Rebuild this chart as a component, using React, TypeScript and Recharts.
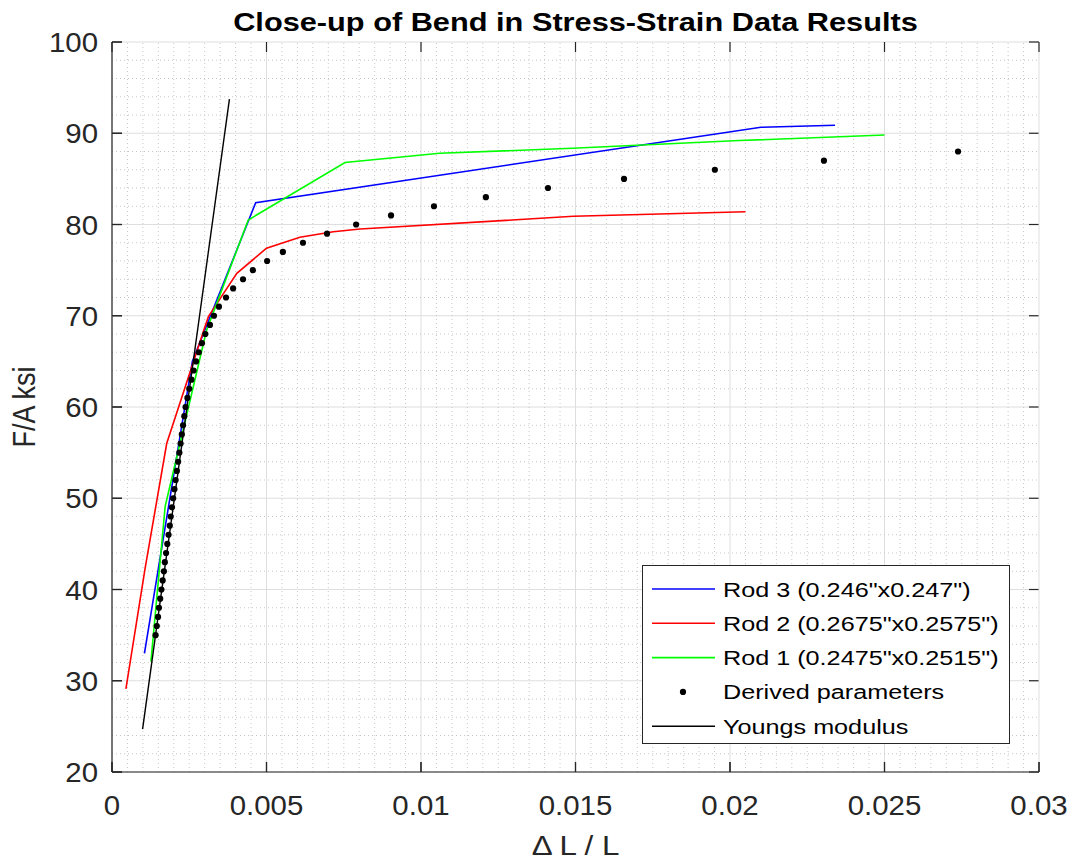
import React from 'react';
import { ComposedChart, Line, Scatter, XAxis, YAxis, CartesianGrid, ReferenceLine, Label } from 'recharts';

const FONT = '"Liberation Sans", Arial, Helvetica, sans-serif';
const INK = '#262626';

const chartTitle = 'Close-up of Bend in Stress-Strain Data Results';
const xLabel = '\u0394 L / L';
const yLabel = 'F/A ksi';

const xTicks = [0, 0.005, 0.01, 0.015, 0.02, 0.025, 0.03];
const xTickLabels = ['0', '0.005', '0.01', '0.015', '0.02', '0.025', '0.03'];
const yTicks = [20, 30, 40, 50, 60, 70, 80, 90, 100];
const yTickLabels = ['20', '30', '40', '50', '60', '70', '80', '90', '100'];
const xMinorStep = 0.0005;
const yMinorStep = 2;

// Rod 3 (blue)
const rod3Strain = [0.00105, 0.0026, 0.00465, 0.021, 0.0234];
const rod3Stress = [33.0, 65.0, 82.4, 90.65, 90.87];

// Rod 2 (red)
const rod2Strain = [0.00045, 0.00107, 0.00177, 0.00297, 0.00312, 0.0036, 0.00404, 0.005, 0.00608, 0.00716, 0.00803, 0.01493, 0.0205];
const rod2Stress = [29.1, 42.3, 56.0, 68.4, 69.9, 72.4, 74.65, 77.4, 78.6, 79.2, 79.5, 80.9, 81.4];

// Rod 1 (green)
const rod1Strain = [0.00126, 0.00172, 0.00306, 0.00441, 0.00754, 0.0106, 0.0149, 0.0203, 0.025];
const rod1Stress = [32.1, 49.1, 68.4, 80.5, 86.8, 87.8, 88.35, 89.2, 89.8];

// Derived parameters (dots)
const derivedStress = [35, 36, 37, 38, 39, 40, 41, 42, 43, 44, 45, 46, 47, 48, 49, 50, 51, 52, 53, 54, 55, 56, 57, 58, 59, 60, 61, 62, 63, 64, 65, 66, 67, 68, 69, 70, 71, 72, 73, 74, 75, 76, 77, 78, 79, 80, 81, 82, 83, 84, 85, 86, 87, 88];
const derivedStrain = [0.00141, 0.00145, 0.00149, 0.00152, 0.00156, 0.0016, 0.00164, 0.00168, 0.00171, 0.00175, 0.00179, 0.00183, 0.00187, 0.0019, 0.00194, 0.00198, 0.00202, 0.00206, 0.0021, 0.00214, 0.00218, 0.00222, 0.00226, 0.0023, 0.00234, 0.00238, 0.00244, 0.0025, 0.00257, 0.00264, 0.00272, 0.00281, 0.00291, 0.00302, 0.00317, 0.0033, 0.00346, 0.00369, 0.00392, 0.00424, 0.00456, 0.00502, 0.00553, 0.00618, 0.00696, 0.0079, 0.00903, 0.01042, 0.0121, 0.01411, 0.01657, 0.01951, 0.02304, 0.02738];

// Youngs modulus (black)
const youngsStrain = [0.00099, 0.0038];
const youngsStress = [24.7, 93.75];

const legendNames = ['Rod 3 (0.246"x0.247")', 'Rod 2 (0.2675"x0.2575")', 'Rod 1 (0.2475"x0.2515")', 'Derived parameters', 'Youngs modulus'];
const legendColors = ['#0000ff', '#ff0000', '#00ff00', '#000000', '#000000'];
const legendKinds = ['line', 'line', 'line', 'dot', 'line'];

const zip = (xs: number[], ys: number[]) => xs.map((x, i) => ({ x, y: ys[i] }));
const rod3 = zip(rod3Strain, rod3Stress);
const rod2 = zip(rod2Strain, rod2Stress);
const rod1 = zip(rod1Strain, rod1Stress);
const derived = zip(derivedStrain, derivedStress);
const youngs = zip(youngsStrain, youngsStress);

const xMin = xTicks[0];
const xMax = xTicks[xTicks.length - 1];
const yMin = yTicks[0];
const yMax = yTicks[yTicks.length - 1];
const minorX: number[] = [];
for (let i = 1; Math.round(i * xMinorStep * 1e6) < Math.round(xMax * 1e6); i++) {
  if (i % 10 !== 0) minorX.push(+(i * xMinorStep).toFixed(5));
}
const minorY: number[] = [];
for (let v = yMin + yMinorStep; v < yMax; v += yMinorStep) {
  if (v % 10 !== 0) minorY.push(v);
}

const TICK_LEN = 10;
const LINE_W = 1.6;
const GRID = '#dedede';

// Major grid line + inward tick stubs on both box edges
const VGridLine = (p: any) => {
  const top = Math.min(p.y1, p.y2);
  const bot = Math.max(p.y1, p.y2);
  return (
    <g key={p.key}>
      <line x1={p.x1} x2={p.x2} y1={top} y2={bot} stroke={GRID} strokeWidth={1} />
      <line x1={p.x1} x2={p.x1} y1={bot} y2={bot - TICK_LEN} stroke={INK} strokeWidth={1.2} />
      <line x1={p.x1} x2={p.x1} y1={top} y2={top + TICK_LEN} stroke={INK} strokeWidth={1.2} />
    </g>
  );
};
const HGridLine = (p: any) => {
  const l = Math.min(p.x1, p.x2);
  const r = Math.max(p.x1, p.x2);
  return (
    <g key={p.key}>
      <line x1={l} x2={r} y1={p.y1} y2={p.y2} stroke={GRID} strokeWidth={1} />
      <line x1={l} x2={l + TICK_LEN} y1={p.y1} y2={p.y1} stroke={INK} strokeWidth={1.2} />
      <line x1={r} x2={r - TICK_LEN} y1={p.y1} y2={p.y1} stroke={INK} strokeWidth={1.2} />
    </g>
  );
};

const BottomTick = (p: any) => {
  const i = xTicks.indexOf(p.payload.value);
  return (
    <g>
      <line x1={p.x} x2={p.x} y1={p.y} y2={p.y - TICK_LEN} stroke={INK} strokeWidth={1.2} />
      <text transform={`translate(${p.x} ${p.y + 43}) scale(1.09 1)`} textAnchor="middle" fontSize={27} fill={INK} fontFamily={FONT}>
        {i >= 0 ? xTickLabels[i] : p.payload.value}
      </text>
    </g>
  );
};
const LeftTick = (p: any) => {
  const i = yTicks.indexOf(p.payload.value);
  return (
    <g>
      <line x1={p.x} x2={p.x + TICK_LEN} y1={p.y} y2={p.y} stroke={INK} strokeWidth={1.2} />
      <text transform={`translate(${p.x - 14} ${p.y + 10}) scale(1.09 1)`} textAnchor="end" fontSize={27} fill={INK} fontFamily={FONT}>
        {i >= 0 ? yTickLabels[i] : p.payload.value}
      </text>
    </g>
  );
};

const DotShape = (p: any) => <circle cx={p.cx} cy={p.cy} r={3.1} fill="#000" />;

const XLabelContent = (p: any) => {
  const vb = p.viewBox;
  return (
    <text transform={`translate(${vb.x + vb.width / 2} ${vb.y + 83}) scale(1.16 1)`} textAnchor="middle" fontSize={27} fill={INK} fontFamily={FONT}>
      {xLabel}
    </text>
  );
};
const YLabelContent = (p: any) => {
  const vb = p.viewBox;
  return (
    <text transform={`translate(${vb.x + 24} ${vb.y + vb.height / 2}) rotate(-90) scale(1 1.15)`} textAnchor="middle" dominantBaseline="central" fontSize={27} fill={INK} fontFamily={FONT}>
      {yLabel}
    </text>
  );
};

export default function App() {
  return (
    <div style={{ position: 'fixed', left: 0, top: 0, width: 1071, height: 861, background: '#fff', fontFamily: FONT, overflow: 'hidden' }}>
      <ComposedChart width={1071} height={861} margin={{ top: 42, right: 32, left: 0, bottom: 0 }}>
        {minorX.map((v) => (
          <ReferenceLine key={'mx' + v} x={v} stroke="#c8c8c8" strokeDasharray="1 3" strokeWidth={1} />
        ))}
        {minorY.map((v) => (
          <ReferenceLine key={'my' + v} y={v} stroke="#c8c8c8" strokeDasharray="1 3" strokeWidth={1} />
        ))}
        <CartesianGrid vertical={VGridLine} horizontal={HGridLine} />
        <XAxis
          dataKey="x"
          type="number"
          domain={[xMin, xMax]}
          ticks={xTicks}
          allowDataOverflow
          height={89}
          tickSize={0}
          tickMargin={0}
          tickLine={false}
          axisLine={{ stroke: INK, strokeWidth: 1.2 }}
          tick={BottomTick}
          interval={0}
        >
          <Label content={XLabelContent} />
        </XAxis>
        <XAxis
          xAxisId="top"
          orientation="top"
          dataKey="x"
          type="number"
          domain={[xMin, xMax]}
          ticks={xTicks}
          allowDataOverflow
          height={0}
          tickLine={false}
          tick={false}
          axisLine={{ stroke: INK, strokeWidth: 1.2 }}
        />
        <YAxis
          dataKey="y"
          type="number"
          domain={[yMin, yMax]}
          ticks={yTicks}
          allowDataOverflow
          width={112}
          tickSize={0}
          tickMargin={0}
          tickLine={false}
          axisLine={{ stroke: INK, strokeWidth: 1.2 }}
          tick={LeftTick}
          interval={0}
        >
          <Label content={YLabelContent} />
        </YAxis>
        <YAxis
          yAxisId="right"
          orientation="right"
          dataKey="y"
          type="number"
          domain={[yMin, yMax]}
          ticks={yTicks}
          allowDataOverflow
          width={0}
          tickLine={false}
          tick={false}
          axisLine={{ stroke: INK, strokeWidth: 1.2 }}
        />
        <Line data={rod3} dataKey="y" stroke="#0000ff" strokeWidth={LINE_W} dot={false} activeDot={false} isAnimationActive={false} />
        <Line data={rod2} dataKey="y" stroke="#ff0000" strokeWidth={LINE_W} dot={false} activeDot={false} isAnimationActive={false} />
        <Line data={rod1} dataKey="y" stroke="#00ff00" strokeWidth={LINE_W} dot={false} activeDot={false} isAnimationActive={false} />
        <Scatter data={derived} dataKey="y" fill="#000" shape={DotShape} isAnimationActive={false} />
        <Line data={youngs} dataKey="y" stroke="#000000" strokeWidth={1.4} dot={false} activeDot={false} isAnimationActive={false} />
      </ComposedChart>

      <svg width={1071} height={50} style={{ position: 'absolute', left: 0, top: 0, pointerEvents: 'none' }}>
        <text transform="translate(575.5 31) scale(1.16 1)" textAnchor="middle" fontSize={26.5} fontWeight="bold" fill="#000" fontFamily={FONT}>
          {chartTitle}
        </text>
      </svg>

      <div
        style={{
          position: 'absolute',
          left: 642,
          top: 565,
          width: 366,
          height: 177,
          border: `1px solid ${INK}`,
          background: '#fff',
          boxSizing: 'content-box',
        }}
      >
        <svg width={366} height={177}>
          {legendNames.map((name, i) => {
            const cy = 23 + i * 34.3;
            return (
              <g key={name}>
                {legendKinds[i] === 'line' ? (
                  <line x1={9} x2={72} y1={cy} y2={cy} stroke={legendColors[i]} strokeWidth={LINE_W} />
                ) : (
                  <circle cx={40} cy={cy} r={3.1} fill={legendColors[i]} />
                )}
                <text transform={`translate(80 ${cy + 7.5}) scale(1.2 1)`} fontSize={21} fill="#000" fontFamily={FONT}>
                  {name}
                </text>
              </g>
            );
          })}
        </svg>
      </div>
    </div>
  );
}
